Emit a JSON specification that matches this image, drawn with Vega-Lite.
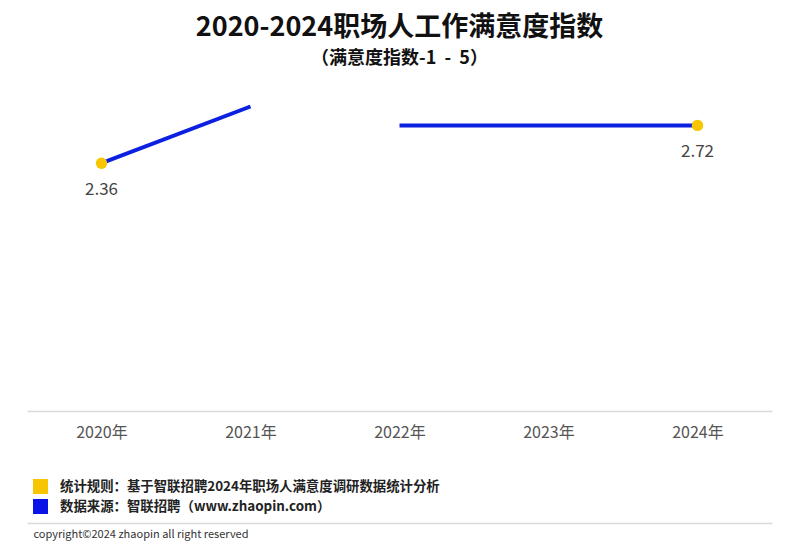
{
  "$schema": "https://vega.github.io/schema/vega-lite/v6.json",
  "background": "white",
  "autosize": {"type": "none"},
  "padding": {"left": 27, "top": 96, "right": 28, "bottom": 136},
  "width": 745,
  "height": 315,
  "title": {
    "text": "2020-2024职场人工作满意度指数",
    "subtitle": "（满意度指数-1\u00a0\u00a0-\u00a0\u00a05）",
    "anchor": "middle",
    "font": "Noto Sans CJK SC",
    "fontSize": 27,
    "fontWeight": "bold",
    "color": "#111111",
    "subtitleFont": "Noto Sans CJK SC",
    "subtitleFontSize": 18,
    "subtitleFontWeight": "bold",
    "subtitleColor": "#111111",
    "subtitlePadding": 8,
    "offset": 27
  },
  "data": {
    "values": [
      {"year": "2020年", "value": 2.36, "seg": "a"},
      {"year": "2021年", "value": 2.9, "seg": "a"},
      {"year": "2022年", "value": 2.72, "seg": "b"},
      {"year": "2023年", "value": 2.72, "seg": "b"},
      {"year": "2024年", "value": 2.72, "seg": "b"}
    ]
  },
  "encoding": {
    "y": {"field": "value", "type": "quantitative", "scale": {"domain": [0, 3]}, "axis": null}
  },
  "layer": [
    {
      "mark": {"type": "line", "color": "#0b20e0", "strokeWidth": 4},
      "encoding": {
        "x": {
          "field": "year", "type": "ordinal", "sort": null,
          "axis": {
            "title": null, "labelAngle": 0, "labelFontSize": 16, "labelColor": "#555555",
            "labelFont": "Noto Sans CJK SC", "labelPadding": 13, "ticks": false,
            "domainColor": "#d9d9d9", "domainWidth": 1.5, "grid": false
          }
        },
        "detail": {"field": "seg"}
      }
    },
    {
      "transform": [{"filter": "datum.year == '2020年' || datum.year == '2024年'"}],
      "mark": {"type": "point", "filled": true, "opacity": 1, "size": 130},
      "encoding": {
        "x": {"field": "year", "type": "ordinal", "sort": null, "axis": null},
        "color": {
          "datum": "统计规则：基于智联招聘2024年职场人满意度调研数据统计分析",
          "scale": {
            "domain": [
              "统计规则：基于智联招聘2024年职场人满意度调研数据统计分析",
              "数据来源：智联招聘（www.zhaopin.com）"
            ],
            "range": ["#f7c600", "#0a14e6"]
          },
          "legend": {
            "title": null,
            "orient": "none",
            "legendX": 6,
            "legendY": 383,
            "symbolType": "square",
            "symbolSize": 225,
            "symbolStrokeWidth": 0,
            "symbolOpacity": 1,
            "labelFont": "Noto Sans CJK SC",
            "labelFontSize": 13.4,
            "labelFontWeight": "bold",
            "labelColor": "#222222",
            "labelOffset": 12,
            "labelLimit": 500,
            "rowPadding": 5,
            "padding": 0
          }
        }
      }
    },
    {
      "transform": [{"filter": "datum.year == '2020年' || datum.year == '2024年'"}],
      "mark": {"type": "text", "dy": 27, "fontSize": 17, "color": "#444444", "font": "Noto Sans CJK SC"},
      "encoding": {
        "x": {
          "field": "year", "type": "ordinal", "sort": null,
          "axis": {
            "orient": "bottom", "offset": 112, "labels": false, "ticks": false, "grid": false,
            "domainColor": "#d9d9d9", "domainWidth": 1.5,
            "title": "copyright©2024 zhaopin all right reserved",
            "titleFont": "Noto Sans CJK SC", "titleFontSize": 11, "titleFontWeight": "normal",
            "titleColor": "#333333", "titleAlign": "left", "titleX": 6, "titlePadding": 5
          }
        },
        "text": {"field": "value", "type": "quantitative", "format": ".2f"}
      }
    }
  ],
  "resolve": {"axis": {"x": "independent"}},
  "config": {
    "view": {"stroke": null}
  }
}
